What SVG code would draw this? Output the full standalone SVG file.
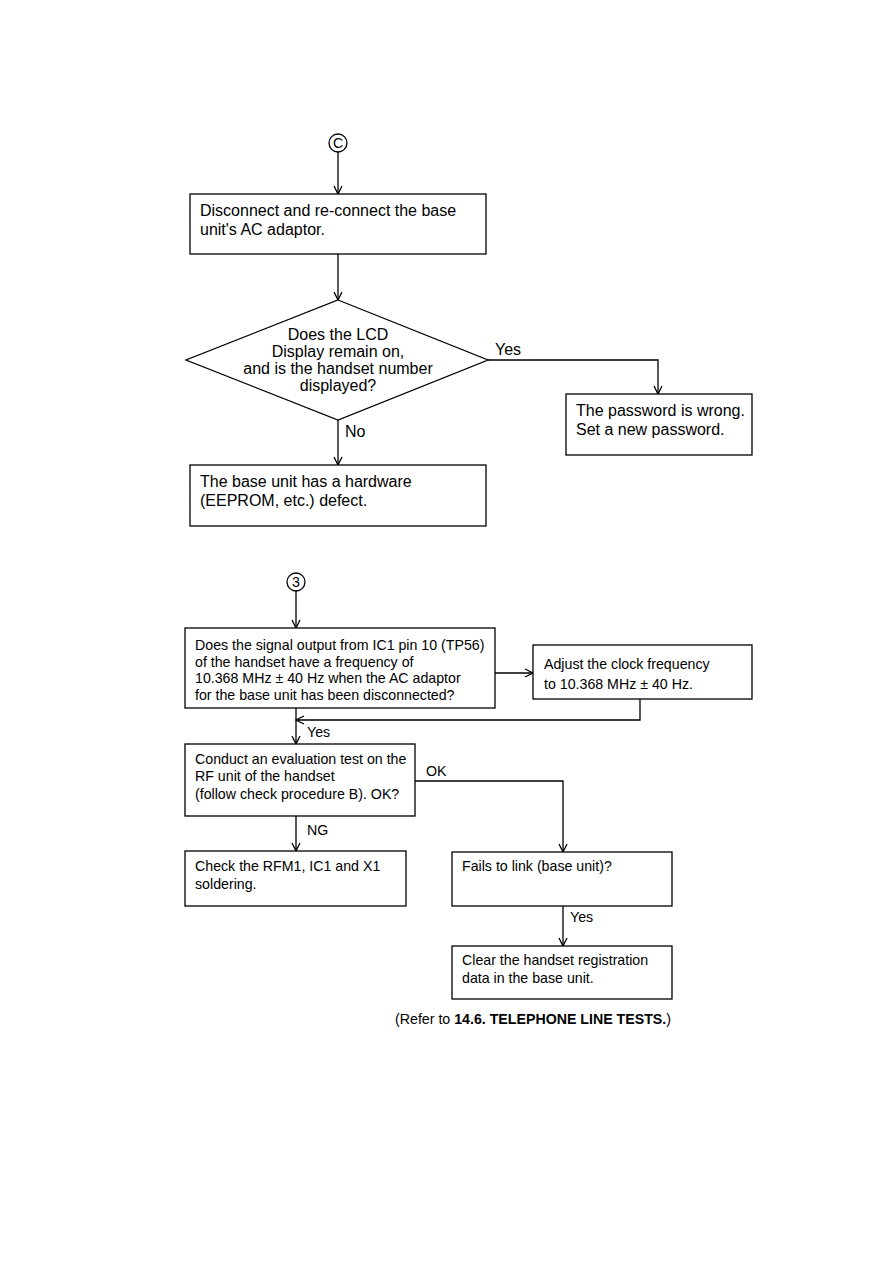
<svg xmlns="http://www.w3.org/2000/svg" width="893" height="1263" viewBox="0 0 893 1263">
<style>
.b{fill:#fff;stroke:#000;stroke-width:1.3}
.c{fill:none;stroke:#000;stroke-width:1.3}
.t{font-family:"Liberation Sans",Arial,sans-serif;font-size:16px;fill:#000}
.s{font-family:"Liberation Sans",Arial,sans-serif;font-size:14.2px;fill:#000}
</style>
<defs>
<marker id="a" markerWidth="10" markerHeight="10" refX="9" refY="5" orient="auto" markerUnits="userSpaceOnUse">
<path d="M1,1 L9,5 L1,9" fill="none" stroke="#000" stroke-width="1.3"/>
</marker>
</defs>
<rect width="893" height="1263" fill="#fff"/>
<g id="connectors">
<line class="c" x1="338" y1="152" x2="338" y2="194" marker-end="url(#a)"/>
<line class="c" x1="338" y1="254" x2="338" y2="300" marker-end="url(#a)"/>
<polyline class="c" points="488,360 658,360 658,394" marker-end="url(#a)"/>
<line class="c" x1="338" y1="420" x2="338" y2="465" marker-end="url(#a)"/>
<line class="c" x1="296" y1="591" x2="296" y2="628" marker-end="url(#a)"/>
<line class="c" x1="495" y1="673" x2="533" y2="673" marker-end="url(#a)"/>
<polyline class="c" points="640,699 640,720 296,720" marker-end="url(#a)"/>
<line class="c" x1="296" y1="708" x2="296" y2="744" marker-end="url(#a)"/>
<polyline class="c" points="415,781 563,781 563,852" marker-end="url(#a)"/>
<line class="c" x1="296" y1="816" x2="296" y2="851" marker-end="url(#a)"/>
<line class="c" x1="563" y1="906" x2="563" y2="946" marker-end="url(#a)"/>
<text class="t" x="495" y="355">Yes</text>
<text class="t" x="345" y="437">No</text>
<text class="s" x="307" y="737">Yes</text>
<text class="s" x="426" y="776">OK</text>
<text class="s" x="307" y="835">NG</text>
<text class="s" x="570" y="922">Yes</text>
</g>
<g id="startC">
<circle class="b" cx="338" cy="143" r="9"/>
<text class="s" x="338" y="148" text-anchor="middle">C</text>
</g>
<g id="n1">
<rect class="b" x="190" y="194" width="296" height="60"/>
<text class="t" x="200" y="216">Disconnect and re-connect the base</text>
<text class="t" x="200" y="235">unit's AC adaptor.</text>
</g>
<g id="d1">
<polygon class="b" points="338,300 488,360 338,420 186,360"/>
<text class="t" text-anchor="middle" x="338" y="340">Does the LCD</text>
<text class="t" text-anchor="middle" x="338" y="357">Display remain on,</text>
<text class="t" text-anchor="middle" x="338" y="374">and is the handset number</text>
<text class="t" text-anchor="middle" x="338" y="391">displayed?</text>
</g>
<g id="n2">
<rect class="b" x="566" y="394" width="186" height="61"/>
<text class="t" x="576" y="416">The password is wrong.</text>
<text class="t" x="576" y="435">Set a new password.</text>
</g>
<g id="n3">
<rect class="b" x="190" y="465" width="296" height="61"/>
<text class="t" x="200" y="487">The base unit has a hardware</text>
<text class="t" x="200" y="506">(EEPROM, etc.) defect.</text>
</g>
<g id="start3">
<circle class="b" cx="296" cy="582" r="9"/>
<text class="s" x="296" y="587" text-anchor="middle">3</text>
</g>
<g id="n4">
<rect class="b" x="185" y="628" width="310" height="80"/>
<text class="s" x="195" y="650">Does the signal output from IC1 pin 10 (TP56)</text>
<text class="s" x="195" y="667">of the handset have a frequency of</text>
<text class="s" x="195" y="683">10.368 MHz ± 40 Hz when the AC adaptor</text>
<text class="s" x="195" y="700">for the base unit has been disconnected?</text>
</g>
<g id="n5">
<rect class="b" x="533" y="645" width="219" height="54"/>
<text class="s" x="544" y="669">Adjust the clock frequency</text>
<text class="s" x="544" y="689">to 10.368 MHz ± 40 Hz.</text>
</g>
<g id="n6">
<rect class="b" x="185" y="744" width="230" height="72"/>
<text class="s" x="195" y="764">Conduct an evaluation test on the</text>
<text class="s" x="195" y="781">RF unit of the handset</text>
<text class="s" x="195" y="799">(follow check procedure B). OK?</text>
</g>
<g id="n7">
<rect class="b" x="185" y="851" width="221" height="55"/>
<text class="s" x="195" y="871">Check the RFM1, IC1 and X1</text>
<text class="s" x="195" y="889">soldering.</text>
</g>
<g id="n8">
<rect class="b" x="452" y="852" width="220" height="54"/>
<text class="s" x="462" y="871">Fails to link (base unit)?</text>
</g>
<g id="n9">
<rect class="b" x="452" y="946" width="220" height="53"/>
<text class="s" x="462" y="965">Clear the handset registration</text>
<text class="s" x="462" y="983">data in the base unit.</text>
</g>
<g id="note">
<text class="s" x="671" y="1024" text-anchor="end">(Refer to <tspan font-weight="bold">14.6. TELEPHONE LINE TESTS.</tspan>)</text>
</g>
</svg>
